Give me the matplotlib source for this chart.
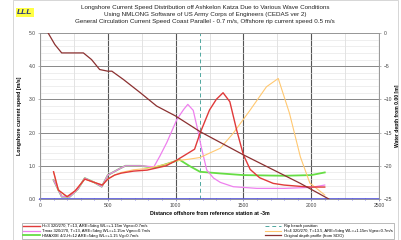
import matplotlib
matplotlib.use("Agg")
import matplotlib.pyplot as plt
from matplotlib.patches import Rectangle
from matplotlib.ticker import MultipleLocator

plt.rcParams['font.family'] = ['Liberation Sans', 'DejaVu Sans']

# ---- data ----
red_x = [100, 135, 200, 260, 330, 400, 460, 500, 550, 600, 690, 790, 930, 1000, 1060, 1140, 1180,
         1250, 1300, 1350, 1400, 1450, 1500, 1550, 1620, 1720, 1800, 1920, 2000, 2100]
red_y = [0.82, 0.27, 0.07, 0.25, 0.60, 0.50, 0.42, 0.60, 0.72, 0.78, 0.84, 0.87, 1.00, 1.15, 1.30, 1.50, 1.98,
         2.68, 3.00, 3.20, 2.93, 2.08, 1.33, 0.89, 0.64, 0.47, 0.42, 0.38, 0.36, 0.36]

mag_x = [100, 160, 220, 280, 330, 400, 455, 500, 590, 630, 740, 840, 885, 935, 1010, 1060, 1090, 1130,
         1165, 1190, 1230, 1280, 1330, 1425, 1600, 1800, 2000, 2100]
mag_y = [0.57, 0.07, 0.07, 0.30, 0.63, 0.50, 0.37, 0.72, 0.92, 1.00, 1.00, 0.97, 1.30, 1.70, 2.40, 2.70, 2.85, 2.67,
         2.05, 1.55, 0.87, 0.63, 0.50, 0.37, 0.32, 0.32, 0.35, 0.42]

green_x = [100, 160, 220, 280, 330, 400, 455, 500, 590, 630, 740, 840, 930, 1030, 1100, 1180, 1330, 1500,
           1800, 2000, 2100]
green_y = [0.57, 0.07, 0.07, 0.30, 0.63, 0.50, 0.37, 0.72, 0.92, 1.00, 1.00, 0.94, 1.05, 1.18, 1.00, 0.82, 0.77, 0.72,
           0.70, 0.72, 0.80]

ora_x = [100, 135, 200, 260, 330, 400, 460, 500, 550, 600, 690, 790, 930, 1000, 1100, 1180, 1330, 1425,
         1550, 1670, 1757, 1840, 1920, 1990, 2100]
ora_y = [0.82, 0.27, 0.07, 0.25, 0.60, 0.50, 0.42, 0.60, 0.72, 0.80, 0.88, 0.92, 1.05, 1.15, 1.20, 1.25, 1.53, 1.98,
         2.68, 3.38, 3.63, 2.58, 1.27, 0.48, 0.12]

depth_x = [60, 110, 160, 320, 380, 440, 500, 530, 615, 740, 800, 860, 1000, 1180, 1500, 1920, 2130]
depth_y = [0.0, -1.75, -3.0, -3.0, -4.0, -5.5, -5.75, -5.75, -7.0, -9.0, -10.0, -11.0, -12.5, -14.85, -18.35,
           -22.65, -25.0]

base_x = [0, 100, 200, 300, 400, 500, 600, 700, 800, 900, 1000, 1100, 1200, 1300, 1400, 1500, 1600,
          1700, 1800, 1900, 2000, 2100, 2200, 2300, 2400, 2500]
base_y = [0.0] * len(base_x)

rip_x = 1180

labels = [
    "H=3 320/270, T=13, ARE=5deg WL=+1.15m Vgeo=0.7m/s",
    "Tmax 320/270, T=13, ARE=5deg WL=+1.15m Vgeo=0.7m/s",
    "HMAX0E 4/2-H=12 ARE=5deg WL=+1.15 Vg=0.7m/s",
    "Rip beach position",
    "H=4 320/270, T=13.5, ARE=5deg WL=+1.15m Vgeo=0.7m/s",
    "Original depth profile (from SDO)",
]

W, H = 401, 240
fig = plt.figure(figsize=(W / 100, H / 100), dpi=100)
fig.patch.set_facecolor('white')

# outer frame
fig.add_artist(Rectangle((13 / W, 0.002), 385 / W, 0.996, transform=fig.transFigure,
                         fill=False, edgecolor='#d0d0d0', linewidth=0.6))

ax = fig.add_axes([40 / W, 1 - 199 / H, 339 / W, 166 / H])
ax2 = ax.twinx()

ax.set_xlim(0, 2500)
ax.set_ylim(0, 5)
ax2.set_ylim(-25, 0)

ax.xaxis.set_major_locator(MultipleLocator(500))
ax.xaxis.set_minor_locator(MultipleLocator(250))
ax.yaxis.set_major_locator(MultipleLocator(1))
ax.yaxis.set_minor_locator(MultipleLocator(0.2))
ax2.yaxis.set_major_locator(MultipleLocator(5))

ax.grid(which='major', axis='x', color='#555555', linewidth=0.8)
ax.grid(which='minor', axis='x', color='#d8d8d8', linewidth=0.5)
ax.grid(which='major', axis='y', color='#888888', linewidth=0.7)
ax.grid(which='minor', axis='y', color='#e2e2e2', linewidth=0.4)
ax.set_axisbelow(True)

for a in (ax, ax2):
    for s in a.spines.values():
        s.set_color('#999999')
        s.set_linewidth(0.6)
ax.tick_params(which='both', length=1.5, width=0.4, color='#888888', labelsize=3.6, labelcolor='#444444', pad=1.5)
ax.tick_params(which='minor', length=0)
ax2.tick_params(length=1.5, width=0.4, color='#888888', labelsize=3.6, labelcolor='#444444', pad=2)

ax.set_yticks([0, 1, 2, 3, 4, 5])
ax.set_yticklabels(["0.0", "1.0", "2.0", "3.0", "4.0", "5.0"])

h_base, = ax.plot(base_x, base_y, color='#5555dd', linewidth=1.2, marker='+', markersize=2,
                  markeredgewidth=0.5, clip_on=False, zorder=3)
h_red, = ax.plot(red_x, red_y, color='#e03a3a', linewidth=1.0, zorder=5)
h_mag, = ax.plot(mag_x, mag_y, color='#ee80ee', linewidth=0.9, zorder=4)
h_green, = ax.plot(green_x, green_y, color='#66dd44', linewidth=1.3, zorder=3)
h_ora, = ax.plot(ora_x, ora_y, color='#ffc870', linewidth=0.8, zorder=4)
h_rip = ax.axvline(rip_x, color='#50a8a0', linewidth=0.7, linestyle=(0, (4, 3)), zorder=2)
h_depth, = ax2.plot(depth_x, depth_y, color='#8b3030', linewidth=0.9, zorder=6)

ax.set_xlabel("Distance offshore from reference station at -3m", fontsize=3.8, fontweight='bold', labelpad=2)
ax.set_ylabel("Longshore current speed [m/s]", fontsize=3.8, fontweight='bold', labelpad=5)
ax2.set_ylabel("Water depth from 0.00 [m]", fontsize=3.6, fontweight='bold', labelpad=2)

title = ("Longshore Current Speed Distribution off Ashkelon Katza Due to Various Wave Conditions\n"
         "Using NMLONG Software of US Army Corps of Engineers (CEDAS ver 2)\n"
         "General Circulation Current Speed Coast Parallel - 0.7 m/s, Offshore rip current speed 0.5 m/s")
fig.text(205 / W, 1 - 5 / H, title, ha='center', va='top', fontsize=4.5, linespacing=1.45, color='#222222')

# logo
fig.text(17 / W, 1 - 12.5 / H, "LLL", ha='left', va='center', fontsize=6, style='italic',
         color='#2a3a7a', fontweight='bold',
         bbox=dict(boxstyle='square,pad=0.15', facecolor='#ffff44', edgecolor='none'))

handles = [h_red, h_mag, h_green, h_rip, h_ora, h_depth]
leg = fig.legend(handles, labels, loc='upper left', bbox_to_anchor=(20 / W, 1 - 238 / H, 376 / W, 17 / H),
                 mode='expand', ncol=2, fontsize=3.0, frameon=True, fancybox=False, borderpad=0.3,
                 labelspacing=0.15, handlelength=4, handletextpad=0.6, columnspacing=2)
leg.get_frame().set_edgecolor('#888888')
leg.get_frame().set_linewidth(0.5)

fig.savefig("out.png", dpi=100)
